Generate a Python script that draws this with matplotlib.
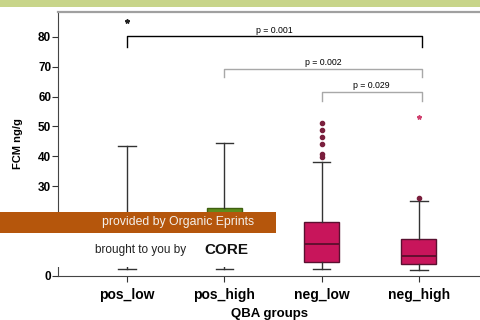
import numpy as np
import matplotlib
matplotlib.use("Agg")
import matplotlib.pyplot as plt
from matplotlib.patches import Rectangle

plt.rcParams['font.family'] = ['Liberation Sans', 'DejaVu Sans']

# box statistics (FCM ng/g)
groups = ["pos_low", "pos_high", "neg_low", "neg_high"]
whislo = [2.3, 2.3, 2.3, 2.0]
q1 = [5.0, 6.0, 4.7, 4.0]
medians = [9.0, 12.0, 10.7, 6.7]
q3 = [17.0, 22.7, 18.0, 12.4]
whishi = [43.5, 44.5, 38.0, 25.0]
outliers = [[], [], [51.2, 48.7, 46.6, 44.2, 40.7, 39.9], [26.0]]
extremes = [[85.3], [], [], [53.1]]

box_colors = ["#5e8c1c", "#5e8c1c", "#c8155b", "#c8155b"]
star_colors = ["#222222", "#222222", "#c8155b", "#d0406e"]

# significance brackets: (left group, right group, height, p text)
br_left = [1, 2, 3]
br_right = [4, 4, 4]
br_height = [80.2, 69.2, 61.5]
br_drop = [3.6, 2.7, 3.0]
br_text = ["p = 0.001", "p = 0.002", "p = 0.029"]
br_color = ["black", "#a8a8a8", "#a8a8a8"]

fig = plt.figure(figsize=(4.8, 3.2), dpi=100)
ax = fig.add_axes([0.121, 0.139, 0.879, 0.822])

stats = []
for i in range(len(groups)):
    stats.append(dict(med=medians[i], q1=q1[i], q3=q3[i], whislo=whislo[i],
                      whishi=whishi[i], fliers=outliers[i], label=groups[i]))

pos = np.arange(1, len(groups) + 1)
bp = ax.bxp(stats, positions=pos, widths=0.36, patch_artist=True,
            showfliers=True,
            boxprops=dict(linewidth=1.0),
            whiskerprops=dict(color="#333333", linewidth=1.0),
            capprops=dict(color="#333333", linewidth=1.0),
            medianprops=dict(color="#5a0f2c", linewidth=1.3),
            flierprops=dict(marker="o", markersize=3, markerfacecolor="#7a1f3d",
                            markeredgecolor="#7a1f3d"),
            capwidths=0.18)
for patch, c in zip(bp["boxes"], box_colors):
    patch.set_facecolor(c)
    patch.set_edgecolor("#5a1030" if c == "#c8155b" else "#3f6010")

for i in range(len(groups)):
    if extremes[i]:
        ax.plot([pos[i]] * len(extremes[i]), extremes[i], linestyle="none",
                marker="*", markersize=3.2, color=star_colors[i])

for l, r, h, d, t, c in zip(br_left, br_right, br_height, br_drop, br_text, br_color):
    r2 = r + 0.03
    ax.plot([l, l, r2, r2], [h - d, h, h, h - d], color=c, linewidth=1.0)
    ax.text((l + r2) / 2, h + 0.6, t, ha="center", va="bottom", fontsize=6.3)

ax.set_xlim(0.29, 4.63)
ax.set_ylim(0, 88.2)
ax.set_yticks([0, 30, 40, 50, 60, 70, 80])
ax.set_xticks(pos)
ax.set_xticklabels(groups, fontsize=10, fontweight="bold")
for lab in ax.get_yticklabels():
    lab.set_fontsize(8.5)
    lab.set_fontweight("bold")
ax.tick_params(axis="both", length=4, color="#333333", pad=1)
ax.tick_params(axis="x", pad=5)
ax.set_ylabel("FCM ng/g", fontsize=8, fontweight="bold", labelpad=11)
ax.set_xlabel("QBA groups", fontsize=9.5, fontweight="bold", labelpad=4)

ax.spines["right"].set_visible(False)
ax.spines["top"].set_color("#a0a0a0")
ax.spines["top"].set_linewidth(1.6)
ax.spines["left"].set_color("#444444")
ax.spines["bottom"].set_color("#444444")

# page decoration: green strip at top and the CORE banner
fig.patches.append(Rectangle((0, 0.978), 1, 0.022, transform=fig.transFigure,
                             facecolor="#c8d58a", edgecolor="none", zorder=5))
fig.patches.append(Rectangle((0, 0.166), 0.575, 0.107, transform=fig.transFigure,
                             facecolor="white", edgecolor="none", zorder=5))
fig.patches.append(Rectangle((0, 0.272), 0.575, 0.066, transform=fig.transFigure,
                             facecolor="#b5560c", edgecolor="none", zorder=5))
fig.text(0.371, 0.305, "provided by Organic Eprints", ha="center", va="center",
         fontsize=8.8, color="#f4f0ec", zorder=6)
fig.text(0.388, 0.218, "brought to you by", ha="right", va="center",
         fontsize=8.5, color="#222222", zorder=6)
fig.text(0.425, 0.218, "CORE", ha="left", va="center", fontsize=11,
         fontweight="bold", color="#111111", zorder=6)

fig.savefig("out.png", dpi=100)
